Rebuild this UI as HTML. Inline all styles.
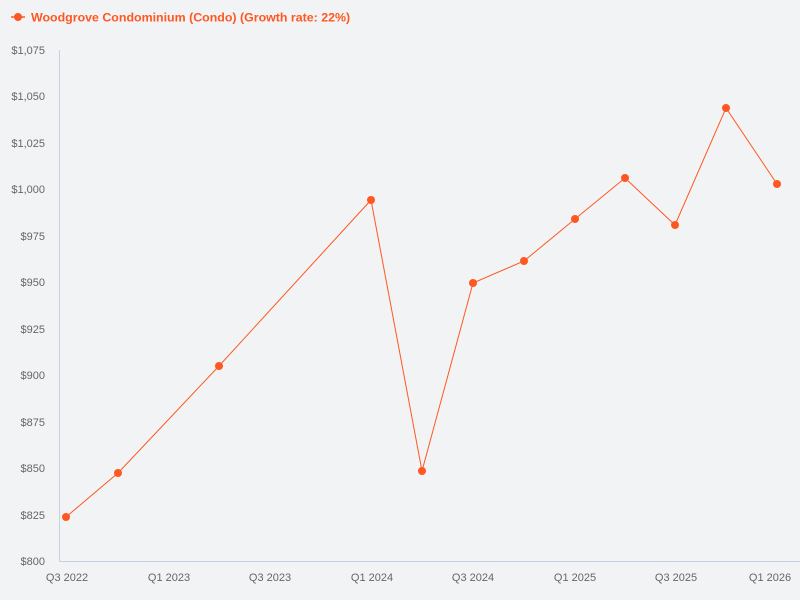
<!DOCTYPE html>
<html><head><meta charset="utf-8"><style>
body{margin:0;background:#f2f3f5;}
svg{display:block;font-family:"Liberation Sans","DejaVu Sans",sans-serif;}
</style></head><body>
<svg width="800" height="600" viewBox="0 0 800 600">
<rect width="800" height="600" fill="#f2f3f5"/>
<line x1="11" y1="17" x2="25" y2="17" stroke="#ff5722" stroke-width="1.5"/>
<circle cx="18" cy="17" r="4" fill="#ff5722"/>
<text x="31" y="21.5" font-size="12.4" font-weight="bold" fill="#ff5722">Woodgrove Condominium (Condo) (Growth rate: 22%)</text>
<g font-size="11" fill="#666" text-anchor="end">
<text x="45" y="565">$800</text>
<text x="45" y="519">$825</text>
<text x="45" y="472">$850</text>
<text x="45" y="426">$875</text>
<text x="45" y="379">$900</text>
<text x="45" y="333">$925</text>
<text x="45" y="286">$950</text>
<text x="45" y="240">$975</text>
<text x="45" y="193">$1,000</text>
<text x="45" y="147">$1,025</text>
<text x="45" y="100">$1,050</text>
<text x="45" y="54">$1,075</text>
</g>
<line x1="59.5" y1="50" x2="59.5" y2="562" stroke="#c5d0e0" stroke-width="1"/>
<line x1="59" y1="561.5" x2="800" y2="561.5" stroke="#c5d0e0" stroke-width="1"/>
<g font-size="11" fill="#666" text-anchor="middle">
<text x="67" y="581">Q3 2022</text>
<text x="169" y="581">Q1 2023</text>
<text x="270" y="581">Q3 2023</text>
<text x="372" y="581">Q1 2024</text>
<text x="473" y="581">Q3 2024</text>
<text x="575" y="581">Q1 2025</text>
<text x="676" y="581">Q3 2025</text>
<text x="770" y="581">Q1 2026</text>
</g>
<polyline fill="none" stroke="#ff5722" stroke-width="1" points="66,517 118,473 219,366 371,200 422,471 473,283 524,261 575,219 625,178 675,225 726,108 777,184"/>
<g fill="#ff5722">
<circle cx="66" cy="517" r="4"/><circle cx="118" cy="473" r="4"/><circle cx="219" cy="366" r="4"/>
<circle cx="371" cy="200" r="4"/><circle cx="422" cy="471" r="4"/><circle cx="473" cy="283" r="4"/>
<circle cx="524" cy="261" r="4"/><circle cx="575" cy="219" r="4"/><circle cx="625" cy="178" r="4"/>
<circle cx="675" cy="225" r="4"/><circle cx="726" cy="108" r="4"/><circle cx="777" cy="184" r="4"/>
</g>
</svg>
</body></html>
